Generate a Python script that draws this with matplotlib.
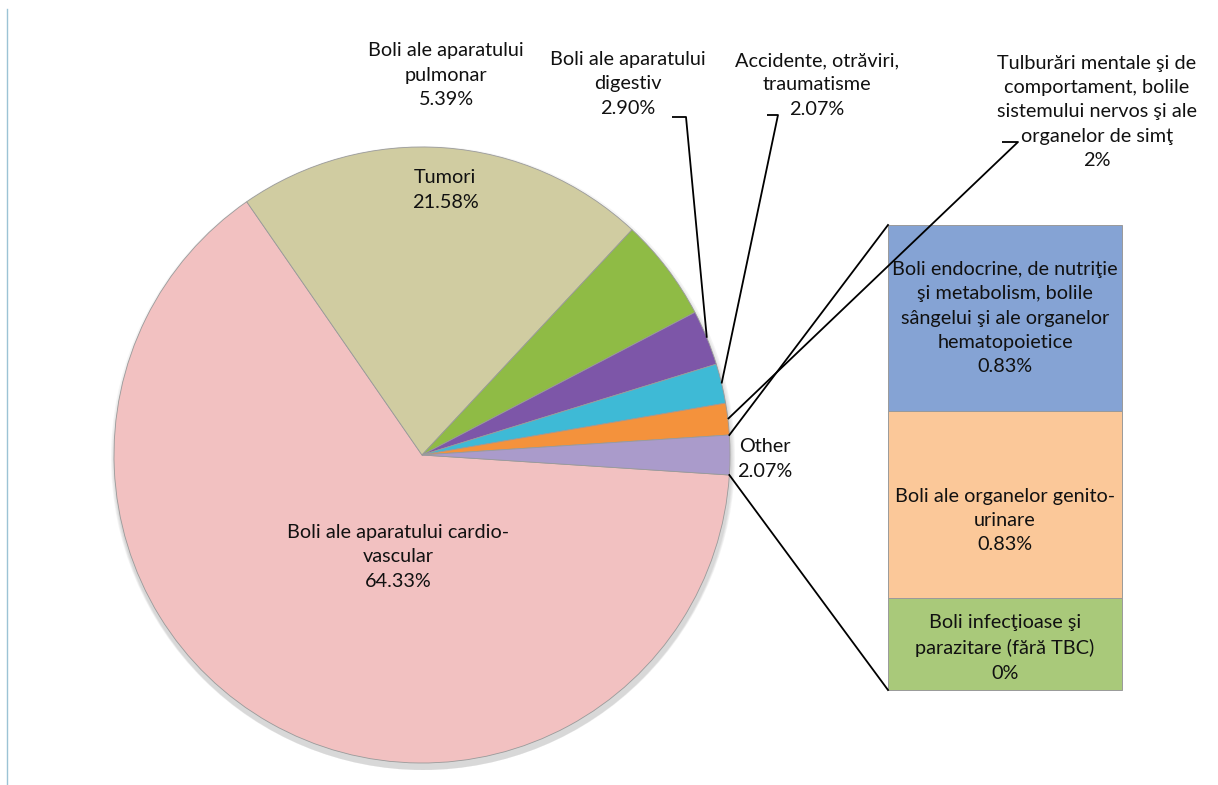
import numpy as np
import matplotlib.pyplot as plt
from matplotlib.patches import Circle

plt.rcParams['font.family'] = ['Lato', 'DejaVu Sans']

# --- Data ---
pie_labels = ['Boli ale aparatului cardio-\nvascular',
              'Tumori',
              'Boli ale aparatului\npulmonar',
              'Boli ale aparatului\ndigestiv',
              'Accidente, otrăviri,\ntraumatisme',
              'Tulburări mentale şi de\ncomportament, bolile\nsistemului nervos şi ale\norganelor de simţ',
              'Other']
pie_main = [64.33, 21.58, 5.39, 2.90, 2.07, 1.66]
pie_pct = ['64.33%', '21.58%', '5.39%', '2.90%', '2.07%', '2%', '2.07%']

bar_labels = ['Boli endocrine, de nutriţie\nşi metabolism, bolile\nsângelui şi ale organelor\nhematopoietice',
              'Boli ale organelor genito-\nurinare',
              'Boli infecţioase şi\nparazitare (fără TBC)']
bar_values = [0.83, 0.83, 0.41]
bar_pct = ['0.83%', '0.83%', '0%']

pie_values = pie_main + [sum(bar_values)]

pie_colors = ['#F2C1C1', '#D0CCA1', '#8FBB45', '#7D56A8', '#3EBAD6', '#F4923C', '#AA9BCB']
bar_colors = ['#85A3D4', '#FBC899', '#A9C97A']

H = 785
def Y(py):
    return H - py

fig = plt.figure(figsize=(12.18, 7.85), dpi=100)
ax = fig.add_axes([0, 0, 1, 1])

cx, cy, R = 422, Y(455), 308

# soft shadow under the pie
for k, a in enumerate([0.10, 0.10, 0.10, 0.12]):
    ax.add_patch(Circle((cx + 1, cy - 3 - k), R + 4 - k, facecolor='#9a9a9a',
                        alpha=a, edgecolor='none', zorder=0))

start = -pie_values[-1] / sum(pie_values) * 180
wedges, _ = ax.pie(pie_values, colors=pie_colors, startangle=start, counterclock=False,
                   radius=R, center=(cx, cy), explode=[0] * 6 + [0.015],
                   wedgeprops=dict(edgecolor='#9a9a9a', linewidth=0.6))
for w in wedges:
    w.set_zorder(2)

fs = 14.3
txt = dict(ha='center', va='center', fontsize=fs, color='#111111', linespacing=1.52, zorder=5)

# labels inside / outside pie
ax.text(398, Y(557), pie_labels[0] + '\n' + pie_pct[0], **txt)
ax.text(445, Y(190), pie_labels[1] + '\n' + pie_pct[1], **txt)
ax.text(446, Y(75), pie_labels[2] + '\n' + pie_pct[2], **txt)
ax.text(628, Y(84), pie_labels[3] + '\n' + pie_pct[3], **txt)
ax.text(817, Y(85), pie_labels[4] + '\n' + pie_pct[4], **txt)
ax.text(1097, Y(112), pie_labels[5] + '\n' + pie_pct[5], **txt)
ax.text(765, Y(459), pie_labels[6] + '\n' + pie_pct[6], **txt)

# leader lines from slice midpoints
def mid_point(w):
    th = np.deg2rad((w.theta1 + w.theta2) / 2)
    x0, y0 = w.center
    return x0 + w.r * np.cos(th), y0 + w.r * np.sin(th)

elbows = {3: [(686, Y(117)), (672, Y(117))],
          4: [(778, Y(115)), (767, Y(115))],
          5: [(1018, Y(142)), (1002, Y(142))]}
for i, pts in elbows.items():
    mx, my = mid_point(wedges[i])
    xs = [mx] + [p[0] for p in pts]
    ys = [my] + [p[1] for p in pts]
    ax.plot(xs, ys, color='black', lw=1.3, zorder=4, solid_capstyle='butt')

# --- bar of "Other" ---
bx, bw = 1005, 234
bar_bottom, bar_top = Y(690), Y(225)
scale = (bar_top - bar_bottom) / sum(bar_values)
label_shift = [0, -16, -4]   # Excel puts the text slightly below centre
b = bar_bottom
for i in reversed(range(len(bar_values))):
    h = bar_values[i] * scale
    ax.bar(bx, h, width=bw, bottom=b, color=bar_colors[i], edgecolor='#9a9a9a',
           linewidth=0.7, zorder=2)
    ax.text(bx, b + h / 2 + label_shift[i], bar_labels[i] + '\n' + bar_pct[i], **txt)
    b += h

# connector lines from "Other" slice to the bar
wo = wedges[-1]
ox, oy = wo.center
for ang, target in [(max(wo.theta1, wo.theta2), bar_top), (min(wo.theta1, wo.theta2), bar_bottom)]:
    th = np.deg2rad(ang)
    ax.plot([ox + wo.r * np.cos(th), bx - bw / 2], [oy + wo.r * np.sin(th), target],
            color='black', lw=1.3, zorder=4)

# thin border on the left edge
ax.plot([7, 7], [Y(9), Y(785)], color='#9CC3D5', lw=1, zorder=1)

ax.set_xlim(0, 1218)
ax.set_ylim(0, H)
ax.set_aspect('equal')
ax.axis('off')

fig.savefig('out.png', dpi=100)
